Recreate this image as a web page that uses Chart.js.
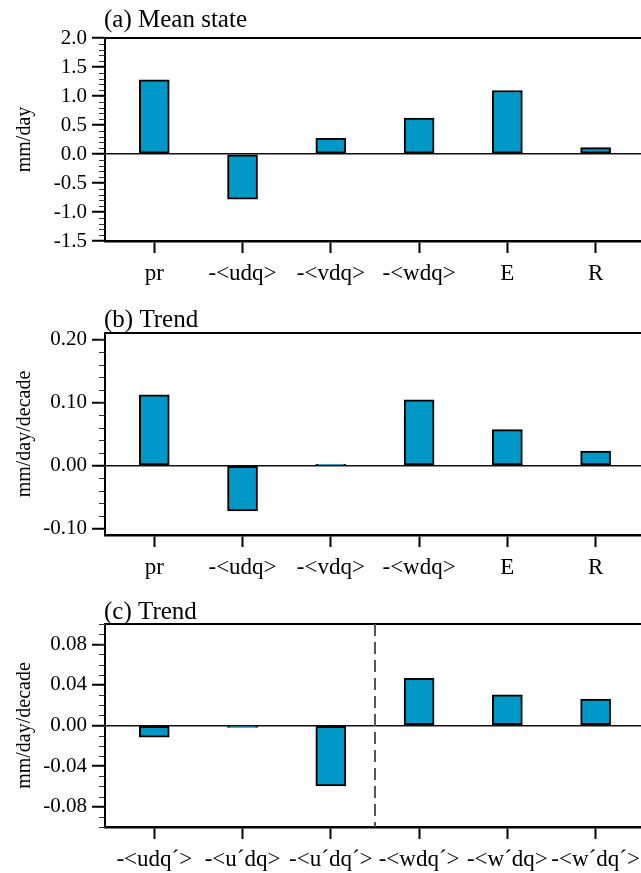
<!DOCTYPE html>
<html>
<head>
<meta charset="utf-8">
<script src="https://cdn.jsdelivr.net/npm/chart.js@4/dist/chart.umd.min.js"></script>
<style>
  body { margin: 0; background: #fff; overflow: hidden; width: 641px; height: 873px; }
  canvas { position: absolute; left: 0; }
</style>
</head>
<body>
<canvas id="chartA" width="641" height="291" style="top:0px"></canvas>
<canvas id="chartB" width="641" height="290" style="top:295px"></canvas>
<canvas id="chartC" width="641" height="291" style="top:586px"></canvas>
<script>
// categories
const budgetTerms = ["pr", "-<udq>", "-<vdq>", "-<wdq>", "E", "R"];
const decompTerms = ["-<udq\u00b4>", "-<u\u00b4dq>", "-<u\u00b4dq\u00b4>", "-<wdq\u00b4>", "-<w\u00b4dq>", "-<w\u00b4dq\u00b4>"];

// series values
const meanState = [1.28, -0.78, 0.27, 0.62, 1.095, 0.11];     // mm/day
const trendB = [0.112, -0.072, 0.002, 0.104, 0.057, 0.023];     // mm/day/decade
const trendC = [-0.0115, -0.002, -0.0595, 0.0464, 0.0303, 0.026]; // mm/day/decade

// y tick labels
const yTicksA = [-1.5, -1.0, -0.5, 0.0, 0.5, 1.0, 1.5, 2.0];
const yTicksB = [-0.10, 0.00, 0.10, 0.20];
const yTicksC = [-0.08, -0.04, 0.00, 0.04, 0.08];

const FONT = '"Liberation Serif", "Times New Roman", serif';
const BAR_COLOR = "#0098c6";

// extra bits the library doesn't draw: top frame, minor ticks, divider, panel title
const decor = {
  id: "decor",
  afterDraw(chart, args, o) {
    const { ctx, chartArea: a, scales } = chart;
    ctx.save();
    ctx.strokeStyle = "#000";
    ctx.lineWidth = 2;
    ctx.beginPath();
    ctx.moveTo(a.left, a.top);
    ctx.lineTo(a.right, a.top);
    ctx.stroke();

    // minor ticks on the left axis
    const y = scales.y;
    const [from, to, step] = o.minor;
    const n = Math.round((to - from) / step);
    ctx.lineWidth = 1.2;
    ctx.strokeStyle = "#333";
    ctx.beginPath();
    for (let i = 0; i <= n; i++) {
      const py = Math.round(y.getPixelForValue(from + i * step)) + 0.5;
      ctx.moveTo(a.left - 6, py);
      ctx.lineTo(a.left, py);
    }
    ctx.stroke();

    if (o.divider != null) {
      const px = Math.round(scales.x.getPixelForValue(o.divider));
      ctx.strokeStyle = "#555";
      ctx.lineWidth = 2;
      ctx.setLineDash([12, 6]);
      ctx.beginPath();
      ctx.moveTo(px, a.top);
      ctx.lineTo(px, a.bottom);
      ctx.stroke();
      ctx.setLineDash([]);
    }

    ctx.fillStyle = "#000";
    ctx.font = "25px " + FONT;
    ctx.textAlign = "left";
    ctx.textBaseline = "alphabetic";
    ctx.fillText(o.title, a.left - 1, a.top - o.titleGap);
    ctx.restore();
  },
};

function makePanel(id, cats, values, yTicks, cfg) {
  const points = values.map((v, i) => ({ x: i, y: v }));
  return new Chart(document.getElementById(id), {
    type: "bar",
    data: {
      datasets: [{
        data: points,
        backgroundColor: BAR_COLOR,
        borderColor: "#000",
        borderWidth: 2,
        borderSkipped: false,
        barThickness: 30,
      }],
    },
    options: {
      responsive: false,
      animation: false,
      layout: { padding: { top: 38, left: 0, right: 0, bottom: 0 } },
      plugins: {
        legend: { display: false },
        tooltip: { enabled: false },
        decor: { title: cfg.title, titleGap: cfg.titleGap, minor: cfg.minor, divider: cfg.divider },
      },
      scales: {
        x: {
          type: "linear",
          offset: false,
          min: -0.558,
          max: 5.514,
          afterBuildTicks: (s) => { s.ticks = cats.map((c, i) => ({ value: i })); },
          afterFit: (s) => {
            s.height = 50;
            // the plot runs off the right edge, so don't let long labels squeeze it
            s.paddingLeft = 0;
            s.paddingRight = 0;
          },
          ticks: {
            autoSkip: false,
            maxRotation: 0,
            padding: 7,
            color: "#000",
            font: { family: FONT, size: 23 },
            callback: (v) => cats[v],
          },
          grid: { offset: false, drawOnChartArea: false, tickLength: 12, tickWidth: 2, tickColor: "#000" },
          border: { color: "#000", width: 2.5 },
        },
        y: {
          min: cfg.yMin,
          max: cfg.yMax,
          afterBuildTicks: (s) => { s.ticks = yTicks.map((v) => ({ value: v })); },
          afterFit: (s) => { s.width = 105; },
          ticks: {
            padding: 5,
            color: "#000",
            font: { family: FONT, size: 21 },
            callback: (v) => v.toFixed(cfg.decimals),
          },
          grid: {
            color: (c) => (c.tick && c.tick.value === 0 ? "#111" : "rgba(0,0,0,0)"),
            lineWidth: 1.5,
            tickLength: 13,
            tickWidth: 2,
            tickColor: "#000",
          },
          border: { color: "#000", width: 2 },
          title: {
            display: true,
            text: cfg.unit,
            color: "#000",
            font: { family: FONT, size: 20 },
            padding: { top: 13, bottom: 0 },
          },
        },
      },
    },
    plugins: [decor],
  });
}

makePanel("chartA", budgetTerms, meanState, yTicksA, {
  title: "(a) Mean state", titleGap: 11, yMin: -1.5, yMax: 2.0, decimals: 1,
  minor: [-1.5, 2.0, 0.1], unit: "mm/day",
});
makePanel("chartB", budgetTerms, trendB, yTicksB, {
  title: "(b) Trend", titleGap: 6, yMin: -0.11, yMax: 0.21, decimals: 2,
  minor: [-0.10, 0.20, 0.02], unit: "mm/day/decade",
});
makePanel("chartC", decompTerms, trendC, yTicksC, {
  title: "(c) Trend", titleGap: 5, yMin: -0.10, yMax: 0.10, decimals: 2,
  minor: [-0.10, 0.10, 0.01], unit: "mm/day/decade", divider: 2.5,
});
</script>
</body>
</html>
